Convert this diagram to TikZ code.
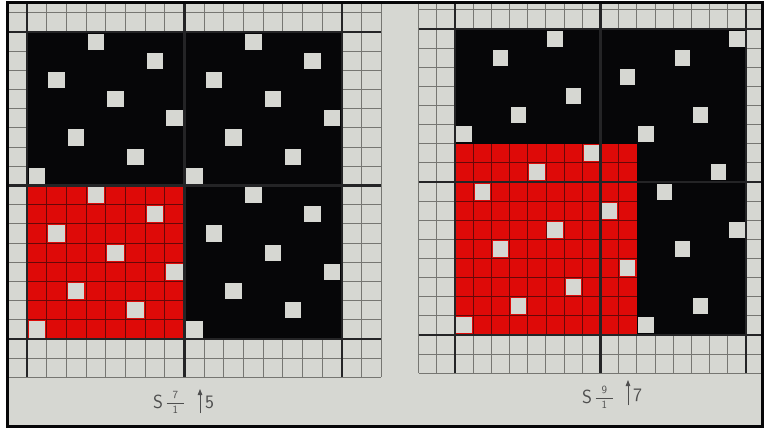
\documentclass[tikz,border=0pt]{standalone}
\usepackage{amsmath}
\usepackage{xcolor}
\usepackage{tikz}
\usetikzlibrary{arrows.meta,positioning}
\definecolor{wvpaper}{RGB}{214,215,210}
\definecolor{wvline}{RGB}{118,118,114}
\definecolor{wvred}{RGB}{222,10,8}
\definecolor{wvink}{RGB}{6,6,8}
\definecolor{wvtext}{RGB}{78,78,78}

\begin{document}
\begin{tikzpicture}[
    x=1pt, y=-1pt,
    cellline/.style={draw=wvline, line width=1pt},
    repline/.style={draw=wvink!88, line width=2.2pt},
    redgrid/.style={draw=wvink!55!wvred, line width=0.9pt},
    spot/.style={fill=wvpaper},
    lbl/.style={font=\fontsize{19}{22}\selectfont\sffamily, text=wvtext, inner sep=0pt},
    frc/.style={font=\fontsize{11}{13}\selectfont, text=wvtext, inner sep=0pt},
    lift/.style={-{Triangle[length=6pt,width=4.5pt]}, draw=wvtext, fill=wvtext, line width=0.8pt}
]
    \useasboundingbox (0,0) rectangle (766,428);
    \fill[white] (0,0) rectangle (766,428);
    \fill[wvpaper] (7,3) rectangle (762,426);

    \begin{scope}
    \clip (7,3) rectangle (762,426);

    % Left draft: 8-end satin
    \begin{scope}[shift={(27,32)}, x=19.69pt, y=-19.19pt]
        \foreach \k in {-1,...,18} {
            \draw[cellline] (\k,-1.6) -- (\k,18);
            \draw[cellline] (-1,\k) -- (18,\k);
        }
        \fill[wvink] (0,0) rectangle (16,16);
        \fill[wvred] (0,8) rectangle (8,16);
        \foreach \r in {0,...,15} {
            \pgfmathtruncatemacro\c{mod(3+3*\r,8)}
            \fill[spot] (\c+0.08,\r+0.08) rectangle (\c+0.92,\r+0.92);
            \fill[spot] (\c+8.08,\r+0.08) rectangle (\c+8.92,\r+0.92);
        }
        \foreach \k in {1,...,7} {
            \draw[redgrid] (\k,8) -- (\k,16);
            \draw[redgrid] (0,\k+8) -- (8,\k+8);
        }
        \foreach \k in {0,8,16} {
            \draw[repline] (\k,-1.6) -- (\k,18);
            \draw[repline] (-1,\k) -- (18,\k);
        }
    \end{scope}

    % Right draft: 10-end satin
    \begin{scope}[shift={(455,29)}, x=18.19pt, y=-19.125pt]
        \foreach \k in {-2,...,18} {
            \draw[cellline] (\k,-1.6) -- (\k,18);
            \draw[cellline] (-2,\k) -- (17,\k);
        }
        \fill[wvink] (0,0) rectangle (16,16);
        \fill[wvred] (0,6) rectangle (10,16);
        \foreach \r in {0,...,15} {
            \pgfmathtruncatemacro\c{mod(5+7*\r,10)}
            \fill[spot] (\c+0.08,\r+0.08) rectangle (\c+0.92,\r+0.92);
            \ifnum\c<6
                \fill[spot] (\c+10.08,\r+0.08) rectangle (\c+10.92,\r+0.92);
            \fi
        }
        \foreach \k in {1,...,9} {
            \draw[redgrid] (\k,6) -- (\k,16);
            \draw[redgrid] (0,\k+6) -- (10,\k+6);
        }
        \foreach \k in {0,8,16} {
            \draw[repline] (\k,-1.6) -- (\k,18);
            \draw[repline] (-2,\k) -- (17,\k);
        }
    \end{scope}
    \end{scope}

    % Frame
    \draw[wvink, line width=3pt] (7,3) rectangle (762,426);

    % Label left
    \node[lbl] (satA) at (158,402) {S};
    \node[frc, right=2pt of satA] (fracA)
        {$\displaystyle\frac{\hspace{6pt}\mathsf{7}\hspace{6pt}}{\mathsf{1}}$};
    \coordinate (footA) at (200,413);
    \coordinate (tipA) at (200,389);
    \draw[lift] (footA) -- (tipA);
    \node[lbl, right=5pt of tipA, anchor=north west, yshift=-7pt] (moveA) {5};

    % Label right
    \node[lbl] (satB) at (587,397) {S};
    \node[frc, right=2pt of satB] (fracB)
        {$\displaystyle\frac{\hspace{6pt}\mathsf{9}\hspace{6pt}}{\mathsf{1}}$};
    \coordinate (footB) at (628,405);
    \coordinate (tipB) at (628,380);
    \draw[lift] (footB) -- (tipB);
    \node[lbl, right=5pt of tipB, anchor=north west, yshift=-9pt] (moveB) {7};
\end{tikzpicture}
\end{document}
